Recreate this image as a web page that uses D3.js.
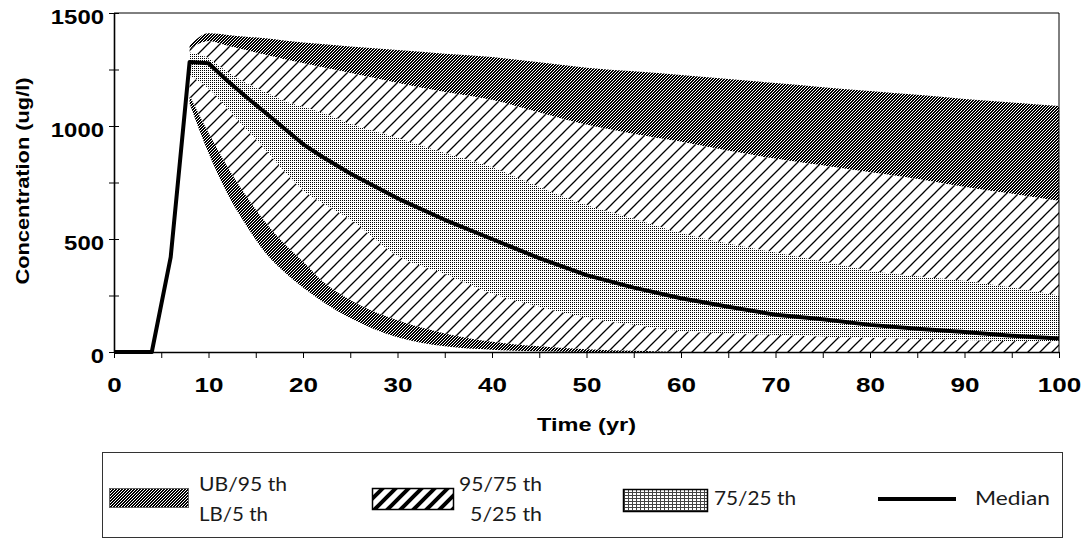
<!DOCTYPE html>
<html>
<head>
<meta charset="utf-8">
<script src="https://cdn.jsdelivr.net/npm/d3@7"></script>
<style>
  body { margin: 0; background: #fff; }
  svg { display: block; }
</style>
</head>
<body>
<div id="chart"></div>
<script>
// percentile bands (years from 8 onwards)
var years = [8, 10, 12, 14, 16, 18, 20, 22, 25, 30, 35, 40, 45, 50, 55, 60, 65, 70, 75, 80, 85, 90, 95, 100];
var ub  = [1355, 1410, 1403, 1395, 1388, 1378, 1370, 1363, 1352, 1336, 1320, 1305, 1282, 1258, 1242, 1226, 1208, 1190, 1172, 1155, 1138, 1120, 1104, 1088];
var p95 = [1340, 1375, 1355, 1335, 1315, 1295, 1278, 1260, 1235, 1190, 1150, 1115, 1060, 1005, 965, 930, 890, 855, 825, 795, 765, 730, 700, 668];
var p75 = [1325, 1300, 1240, 1190, 1150, 1112, 1085, 1060, 1010, 948, 880, 818, 730, 650, 590, 527, 480, 440, 400, 360, 335, 315, 285, 250];
var p25 = [1225, 1165, 1075, 985, 895, 800, 715, 660, 585, 425, 345, 258, 200, 150, 120, 92, 82, 75, 68, 62, 57, 52, 48, 45];
var p5  = [1135, 970, 820, 690, 575, 480, 400, 315, 230, 140, 82, 45, 25, 12, 5, 0, 0, 0, 0, 0, 0, 0, 0, 0];
var lb  = [1100, 880, 700, 560, 440, 355, 285, 225, 150, 65, 25, 10, 3, 0, 0, 0, 0, 0, 0, 0, 0, 0, 0, 0];

// median line
var medianYears = [0, 2, 4, 6, 8, 10, 12, 14, 16, 18, 20, 22, 25, 30, 35, 40, 45, 50, 55, 60, 65, 70, 75, 80, 85, 90, 95, 100];
var median = [0, 0, 0, 420, 1283, 1278, 1200, 1128, 1060, 990, 920, 865, 790, 680, 585, 500, 415, 340, 285, 238, 200, 165, 145, 120, 103, 88, 72, 60];

// axes
var xTicks = [0, 5, 10, 15, 20, 25, 30, 35, 40, 45, 50, 55, 60, 65, 70, 75, 80, 85, 90, 95, 100];
var xLabels = [0, 10, 20, 30, 40, 50, 60, 70, 80, 90, 100];
var yTicks = [0, 250, 500, 750, 1000, 1250, 1500];
var yLabels = [0, 500, 1000, 1500];

var width = 1089, height = 541;
var margin = {top: 13, right: 30, bottom: 189, left: 114};

var svg = d3.select("#chart").append("svg")
    .attr("width", width)
    .attr("height", height);

var x = d3.scaleLinear().domain([0, 100]).range([margin.left, width - margin.right]);
var y = d3.scaleLinear().domain([0, 1500]).range([height - margin.bottom, margin.top]);

// fill patterns
var defs = svg.append("defs");

function pixelPattern(id, size, bg, fg, pts) {
    var p = defs.append("pattern").attr("id", id)
        .attr("patternUnits", "userSpaceOnUse").attr("width", size).attr("height", size);
    p.append("rect").attr("width", size).attr("height", size).attr("fill", bg);
    pts.forEach(function(q) {
        p.append("rect").attr("x", q[0]).attr("y", q[1]).attr("width", 1).attr("height", 1).attr("fill", fg);
    });
}

// dark crosshatch: black with a lattice of white pixels
pixelPattern("dark", 3, "#000", "#fff", [[0, 0], [2, 1], [1, 2]]);
// light dots
pixelPattern("dots", 2, "#fff", "#000", [[0, 0]]);

var hatch = defs.append("pattern").attr("id", "hatch")
    .attr("patternUnits", "userSpaceOnUse").attr("width", 12).attr("height", 12);
hatch.append("rect").attr("width", 12).attr("height", 12).attr("fill", "#fff");
hatch.append("path").attr("d", "M0,12L12,0M-3,3L3,-3M9,15L15,9")
    .attr("stroke", "#000").attr("stroke-width", 1.3);

var lgHatch = defs.append("pattern").attr("id", "lgHatch")
    .attr("patternUnits", "userSpaceOnUse").attr("width", 13).attr("height", 13);
lgHatch.append("rect").attr("width", 13).attr("height", 13).attr("fill", "#fff");
lgHatch.append("path").attr("d", "M0,13L13,0M-4,4L4,-4M9,17L17,9")
    .attr("stroke", "#000").attr("stroke-width", 4);

var lgDots = defs.append("pattern").attr("id", "lgDots")
    .attr("patternUnits", "userSpaceOnUse").attr("width", 4).attr("height", 3);
lgDots.append("rect").attr("width", 4).attr("height", 3).attr("fill", "#fff");
lgDots.append("rect").attr("width", 4).attr("height", 1).attr("fill", "#444");
lgDots.append("rect").attr("width", 1).attr("height", 3).attr("fill", "#444");

// bands
var bands = [
    {hi: ub,  lo: p95, fill: "url(#dark)"},
    {hi: p95, lo: p75, fill: "url(#hatch)"},
    {hi: p75, lo: p25, fill: "url(#dots)"},
    {hi: p25, lo: p5,  fill: "url(#hatch)"},
    {hi: p5,  lo: lb,  fill: "url(#dark)"}
];

bands.forEach(function(b) {
    var area = d3.area()
        .x(function(d, i) { return x(years[i]); })
        .y0(function(d, i) { return y(b.lo[i]); })
        .y1(function(d, i) { return y(b.hi[i]); })
        .curve(d3.curveMonotoneX);
    svg.append("path")
        .datum(years)
        .attr("fill", b.fill)
        .attr("d", area);
});

// median line
var line = d3.line()
    .x(function(d, i) { return x(medianYears[i]); })
    .y(function(d) { return y(d); });

svg.append("path")
    .datum(median)
    .attr("fill", "none")
    .attr("stroke", "#000")
    .attr("stroke-width", 4)
    .attr("stroke-linejoin", "round")
    .attr("d", line);

// frame (top / right)
svg.append("path")
    .attr("d", "M" + x(0) + "," + y(1500) + "H" + x(100) + "V" + y(0))
    .attr("fill", "none").attr("stroke", "#000").attr("stroke-width", 1);

// x axis
var gx = svg.append("g")
    .attr("transform", "translate(0," + y(0) + ")")
    .call(d3.axisBottom(x).tickValues(xTicks).tickSize(6).tickSizeOuter(0)
        .tickFormat(function(d) { return xLabels.indexOf(d) >= 0 ? d : ""; }));
gx.select(".domain").attr("stroke", "#000").attr("stroke-width", 1.6);
gx.selectAll(".tick line").attr("stroke", "#000").attr("stroke-width", 1);
gx.selectAll(".tick text")
    .attr("y", 40).attr("dy", 0)
    .attr("fill", "#000")
    .style("font-family", "'Liberation Sans', Arial, sans-serif")
    .style("font-size", "21px").style("font-weight", "bold")
    .attr("textLength", function(d) { return xLabels.indexOf(d) >= 0 ? String(d).length * 14.5 : null; })
    .attr("lengthAdjust", "spacingAndGlyphs");

// y axis
var gy = svg.append("g")
    .attr("transform", "translate(" + x(0) + ",0)")
    .call(d3.axisLeft(y).tickValues(yTicks).tickSize(5).tickSizeOuter(0)
        .tickFormat(function(d) { return yLabels.indexOf(d) >= 0 ? d : ""; }));
gy.select(".domain").attr("stroke", "#000").attr("stroke-width", 1.6);
gy.selectAll(".tick line").attr("x1", 5).attr("stroke", "#000").attr("stroke-width", 1);
gy.selectAll(".tick text")
    .attr("x", -10).attr("y", 4)
    .attr("fill", "#000")
    .style("font-family", "'Liberation Sans', Arial, sans-serif")
    .style("font-size", "20px").style("font-weight", "bold")
    .attr("textLength", function(d) { return yLabels.indexOf(d) >= 0 ? String(d).length * 13.3 : null; })
    .attr("lengthAdjust", "spacingAndGlyphs");

// axis titles
svg.append("text")
    .attr("x", (x(0) + x(100)) / 2)
    .attr("y", 431)
    .attr("text-anchor", "middle")
    .attr("textLength", 99).attr("lengthAdjust", "spacingAndGlyphs")
    .style("font-family", "'Liberation Sans', Arial, sans-serif")
    .style("font-size", "19px").style("font-weight", "bold")
    .text("Time (yr)");

svg.append("text")
    .attr("transform", "translate(29,181) rotate(-90)")
    .attr("text-anchor", "middle")
    .attr("textLength", 207).attr("lengthAdjust", "spacingAndGlyphs")
    .style("font-family", "'Liberation Sans', Arial, sans-serif")
    .style("font-size", "18px").style("font-weight", "bold")
    .text("Concentration (ug/l)");

// legend
var lg = svg.append("g");
lg.append("rect")
    .attr("x", 102.5).attr("y", 452.5).attr("width", 960).attr("height", 85)
    .attr("fill", "none").attr("stroke", "#333").attr("stroke-width", 1);

var lgFont = "Lato, 'Open Sans', sans-serif";
function lgText(tx, ty, str, len, anchor) {
    lg.append("text")
        .attr("x", tx).attr("y", ty)
        .attr("text-anchor", anchor || "start")
        .attr("textLength", len).attr("lengthAdjust", "spacingAndGlyphs")
        .attr("fill", "#1a1a1a")
        .style("font-family", lgFont).style("font-size", "19px")
        .text(str);
}

lg.append("rect").attr("x", 109.5).attr("y", 488.5).attr("width", 79).attr("height", 19)
    .attr("fill", "url(#dark)").attr("stroke", "#666");
lgText(199, 491, "UB/95 th", 88);
lgText(199, 521, "LB/5 th", 69);

lg.append("rect").attr("x", 372.5).attr("y", 488.5).attr("width", 81).attr("height", 21)
    .attr("fill", "url(#lgHatch)").attr("stroke", "#000").attr("stroke-width", 1.5);
lgText(459, 491, "95/75 th", 83);
lgText(542, 521, "5/25 th", 72, "end");

lg.append("rect").attr("x", 623.5).attr("y", 489.5).attr("width", 84).attr("height", 22)
    .attr("fill", "url(#lgDots)").attr("stroke", "#000").attr("stroke-width", 1.5);
lgText(714, 505, "75/25 th", 82);

lg.append("line").attr("x1", 878).attr("x2", 956).attr("y1", 499).attr("y2", 499)
    .attr("stroke", "#000").attr("stroke-width", 4);
lgText(975, 505, "Median", 75);
</script>
</body>
</html>
